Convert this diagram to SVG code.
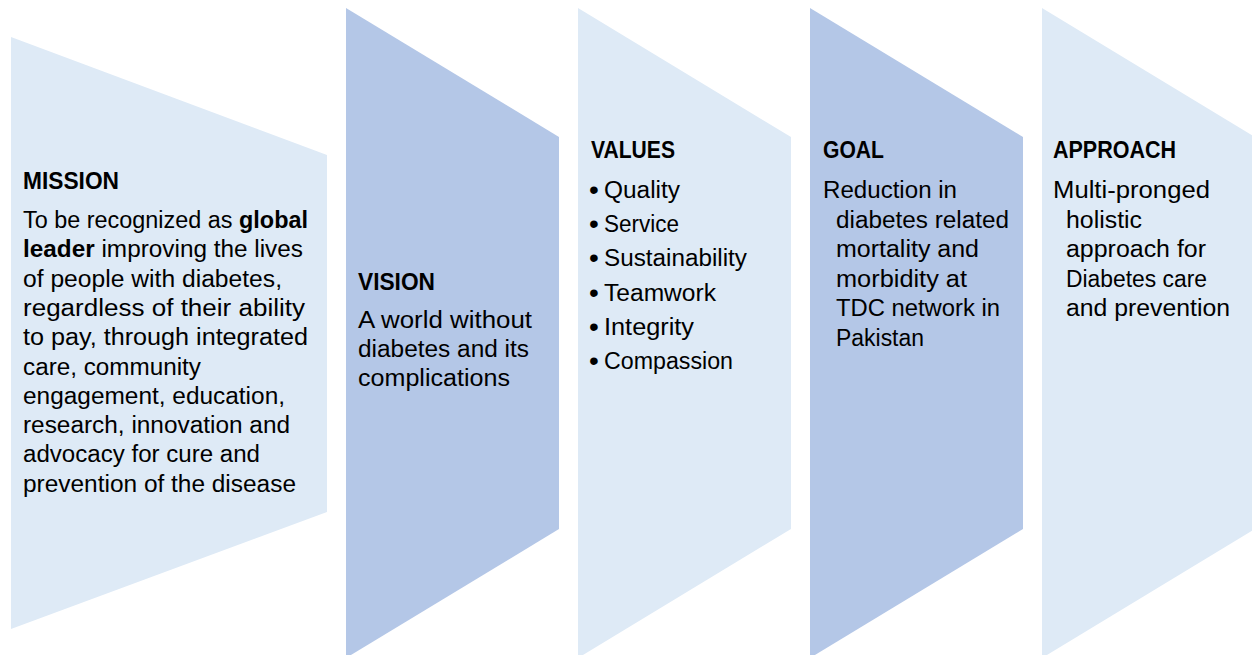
<svg xmlns="http://www.w3.org/2000/svg" width="1252" height="655" viewBox="0 0 1252 655">
  <style>
    .light { fill: #DEEAF6; }
    .dark { fill: #B4C7E7; }
    text { font-family: "Liberation Sans", Arial, sans-serif; font-size: 23px; fill: #000000; }
    .h { font-weight: bold; font-size: 23px; }
    .b { font-weight: bold; }
    .bul { font-size: 28px; }
  </style>
  <rect width="1252" height="655" fill="#FFFFFF"/>

  <g id="mission">
    <polygon class="light" points="11,37 327,155 327,512 11,629"/>
    <text class="h" x="23" y="189" textLength="96" lengthAdjust="spacingAndGlyphs">MISSION</text>
    <text x="23" y="228" textLength="285" lengthAdjust="spacingAndGlyphs">To be recognized as <tspan class="b">global</tspan></text>
    <text x="23" y="257.3" textLength="280" lengthAdjust="spacingAndGlyphs"><tspan class="b">leader</tspan> improving the lives</text>
    <text x="23" y="286.6" textLength="259" lengthAdjust="spacingAndGlyphs">of people with diabetes,</text>
    <text x="23" y="315.9" textLength="282" lengthAdjust="spacingAndGlyphs">regardless of their ability</text>
    <text x="23" y="345.2" textLength="285" lengthAdjust="spacingAndGlyphs">to pay, through integrated</text>
    <text x="23" y="374.5" textLength="178" lengthAdjust="spacingAndGlyphs">care, community</text>
    <text x="23" y="403.8" textLength="262" lengthAdjust="spacingAndGlyphs">engagement, education,</text>
    <text x="23" y="433.1" textLength="267" lengthAdjust="spacingAndGlyphs">research, innovation and</text>
    <text x="23" y="462.4" textLength="237" lengthAdjust="spacingAndGlyphs">advocacy for cure and</text>
    <text x="23" y="491.7" textLength="273" lengthAdjust="spacingAndGlyphs">prevention of the disease</text>
  </g>

  <g id="vision">
    <polygon class="dark" points="346,8 559,137 559,529 346,658"/>
    <text class="h" x="358" y="290" textLength="77" lengthAdjust="spacingAndGlyphs">VISION</text>
    <text x="358" y="328" textLength="174" lengthAdjust="spacingAndGlyphs">A world without</text>
    <text x="358" y="357" textLength="171" lengthAdjust="spacingAndGlyphs">diabetes and its</text>
    <text x="358" y="386" textLength="152" lengthAdjust="spacingAndGlyphs">complications</text>
  </g>

  <g id="values">
    <polygon class="light" points="578,8 791,137 791,529 578,658"/>
    <text class="h" x="591" y="158" textLength="84" lengthAdjust="spacingAndGlyphs">VALUES</text>
    <text class="bul" x="589" y="199">•</text>
    <text x="604" y="198" textLength="76" lengthAdjust="spacingAndGlyphs">Quality</text>
    <text class="bul" x="589" y="233.2">•</text>
    <text x="604" y="232.2" textLength="75" lengthAdjust="spacingAndGlyphs">Service</text>
    <text class="bul" x="589" y="267.4">•</text>
    <text x="604" y="266.4" textLength="143" lengthAdjust="spacingAndGlyphs">Sustainability</text>
    <text class="bul" x="589" y="301.6">•</text>
    <text x="604" y="300.6" textLength="112" lengthAdjust="spacingAndGlyphs">Teamwork</text>
    <text class="bul" x="589" y="335.8">•</text>
    <text x="604" y="334.8" textLength="90" lengthAdjust="spacingAndGlyphs">Integrity</text>
    <text class="bul" x="589" y="370">•</text>
    <text x="604" y="369" textLength="129" lengthAdjust="spacingAndGlyphs">Compassion</text>
  </g>

  <g id="goal">
    <polygon class="dark" points="810,8 1023,137 1023,529 810,658"/>
    <text class="h" x="823" y="158" textLength="61" lengthAdjust="spacingAndGlyphs">GOAL</text>
    <text x="823" y="198" textLength="134" lengthAdjust="spacingAndGlyphs">Reduction in</text>
    <text x="836" y="227.5" textLength="173" lengthAdjust="spacingAndGlyphs">diabetes related</text>
    <text x="836" y="257" textLength="143" lengthAdjust="spacingAndGlyphs">mortality and</text>
    <text x="836" y="286.5" textLength="131" lengthAdjust="spacingAndGlyphs">morbidity at</text>
    <text x="836" y="316" textLength="164" lengthAdjust="spacingAndGlyphs">TDC network in</text>
    <text x="836" y="345.5" textLength="88" lengthAdjust="spacingAndGlyphs">Pakistan</text>
  </g>

  <g id="approach">
    <polygon class="light" points="1042,8 1255,137 1255,529 1042,658"/>
    <text class="h" x="1053" y="158" textLength="123" lengthAdjust="spacingAndGlyphs">APPROACH</text>
    <text x="1053" y="198" textLength="157" lengthAdjust="spacingAndGlyphs">Multi-pronged</text>
    <text x="1066" y="227.5" textLength="76" lengthAdjust="spacingAndGlyphs">holistic</text>
    <text x="1066" y="257" textLength="140" lengthAdjust="spacingAndGlyphs">approach for</text>
    <text x="1066" y="286.5" textLength="141" lengthAdjust="spacingAndGlyphs">Diabetes care</text>
    <text x="1066" y="316" textLength="164" lengthAdjust="spacingAndGlyphs">and prevention</text>
  </g>

  <g id="connectors"></g>
</svg>
